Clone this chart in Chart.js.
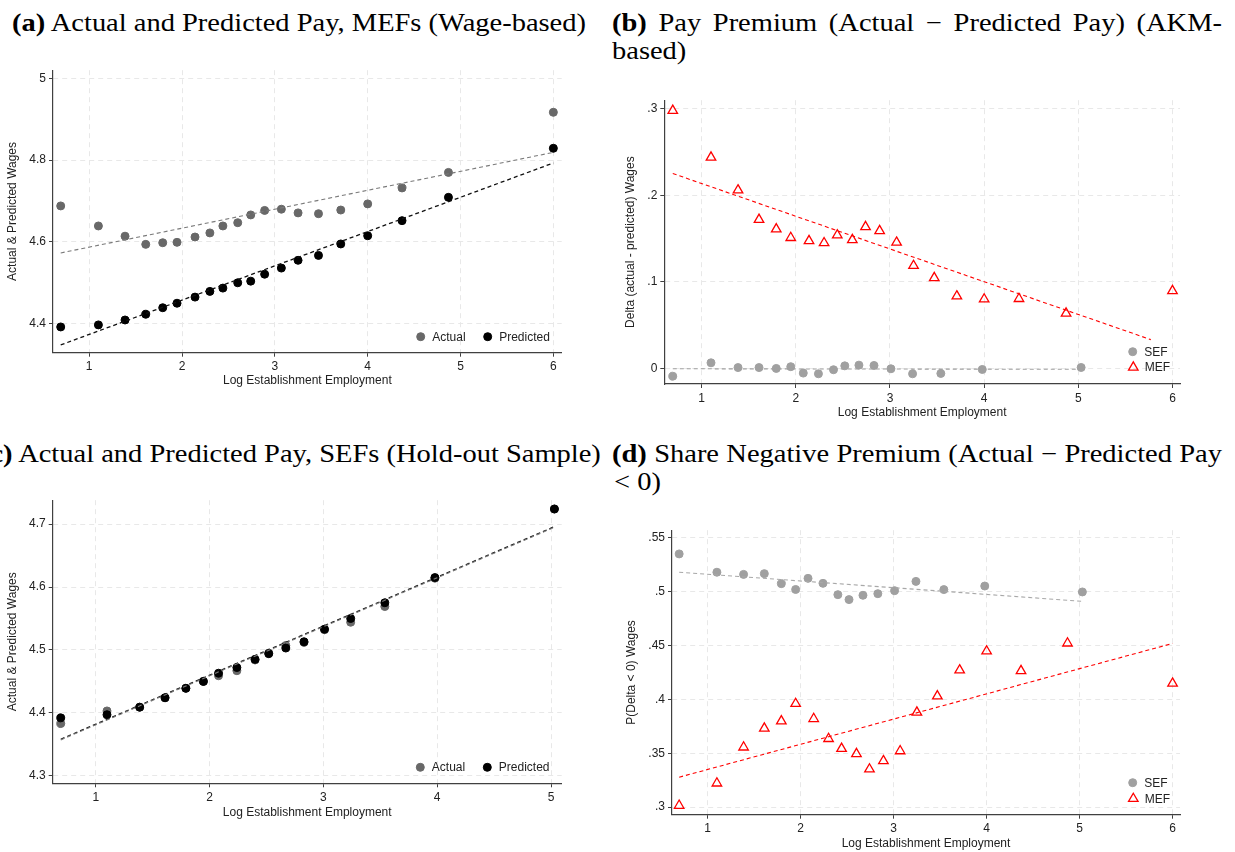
<!DOCTYPE html>
<html>
<head>
<meta charset="utf-8">
<script src="https://cdn.jsdelivr.net/npm/chart.js@4/dist/chart.umd.min.js"></script>
<style>
  body { margin: 0; background: #fff; width: 1235px; height: 852px; position: relative; overflow: hidden; }
  canvas { position: absolute; }
  .ttl { position: absolute; white-space: nowrap; font-family: 'Palatino Linotype', 'Book Antiqua', Palatino, 'Liberation Serif', serif;
         font-size: 25px; line-height: 28px; color: #000; transform-origin: 0 0; }
</style>
</head>
<body>
<span class="ttl" id="ta" style="top:9px"><b>(a)</b> Actual and Predicted Pay, MEFs (Wage-based)</span>
<span class="ttl" id="tb1" style="top:9px"><b>(b)</b> Pay Premium (Actual − Predicted Pay) (AKM-</span>
<span class="ttl" id="tb2" style="top:37px">based)</span>
<span class="ttl" id="tc" style="top:440px"><b>(c)</b> Actual and Predicted Pay, SEFs (Hold-out Sample)</span>
<span class="ttl" id="td1" style="top:440px"><b>(d)</b> Share Negative Premium (Actual − Predicted Pay</span>
<span class="ttl" id="td2" style="top:468px">&lt; 0)</span>

<canvas id="ca" width="600" height="335" style="left:0;top:60px"></canvas>
<canvas id="cb" width="625" height="335" style="left:610px;top:90px"></canvas>
<canvas id="cc" width="600" height="335" style="left:0;top:490px"></canvas>
<canvas id="cd" width="625" height="335" style="left:610px;top:520px"></canvas>

<script>
// log establishment employment bins
const xMef = [0.693, 1.099, 1.386, 1.609, 1.792, 1.946, 2.14, 2.30, 2.44, 2.60, 2.74, 2.89, 3.07, 3.25, 3.47, 3.71, 4.00, 4.37, 4.87, 6.00];
const xSef = [0.693, 1.099, 1.386, 1.609, 1.792, 1.946, 2.079, 2.24, 2.40, 2.52, 2.67, 2.83, 3.01, 3.24, 3.54, 3.98, 5.03];

// (a) MEFs, wage-based
const aActual    = [4.688, 4.639, 4.614, 4.594, 4.598, 4.599, 4.612, 4.622, 4.639, 4.647, 4.666, 4.677, 4.680, 4.671, 4.669, 4.678, 4.693, 4.732, 4.770, 4.917];
const aPredicted = [4.392, 4.397, 4.409, 4.423, 4.439, 4.450, 4.465, 4.479, 4.487, 4.500, 4.504, 4.521, 4.536, 4.555, 4.567, 4.595, 4.615, 4.652, 4.709, 4.829];
const aActualFit    = [{x: 0.693, y: 4.573}, {x: 6.00, y: 4.819}];
const aPredictedFit = [{x: 0.693, y: 4.348}, {x: 6.00, y: 4.793}];

// (b) pay premium, AKM-based
const bSef = [-0.009, 0.0065, 0.001, 0.001, 0.0, 0.002, -0.0054, -0.0062, -0.0015, 0.003, 0.0038, 0.0034, -0.0004, -0.0062, -0.0058, -0.0012, 0.0011];
const bMef = [0.298, 0.244, 0.206, 0.172, 0.161, 0.151, 0.1475, 0.145, 0.154, 0.1486, 0.1636, 0.159, 0.1456, 0.1187, 0.1046, 0.0835, 0.080, 0.0805, 0.0636, 0.0897];
const bSefFit = [{x: 0.693, y: -0.0004}, {x: 5.03, y: -0.001}];
const bMefFit = [{x: 0.693, y: 0.2253}, {x: 5.77, y: 0.0333}];

// (c) SEFs, hold-out sample
const cActual    = [4.383, 4.403, 4.409, 4.424, 4.439, 4.450, 4.459, 4.467, 4.484, 4.495, 4.507, 4.512, 4.532, 4.544, 4.569, 4.614, 4.724];
const cPredicted = [4.392, 4.397, 4.409, 4.424, 4.439, 4.450, 4.463, 4.472, 4.485, 4.494, 4.503, 4.513, 4.533, 4.550, 4.575, 4.615, 4.724];
const cActualFit    = [{x: 0.693, y: 4.357}, {x: 5.03, y: 4.695}];
const cPredictedFit = [{x: 0.693, y: 4.358}, {x: 5.03, y: 4.696}];

// (d) share with negative premium
const dSef = [0.535, 0.518, 0.516, 0.5167, 0.5074, 0.502, 0.5123, 0.5077, 0.4972, 0.4926, 0.4966, 0.4981, 0.5009, 0.5095, 0.5019, 0.5052, 0.4997];
const dMef = [0.3015, 0.3222, 0.3556, 0.3731, 0.3799, 0.396, 0.382, 0.3635, 0.3543, 0.3494, 0.3352, 0.3429, 0.3521, 0.388, 0.4031, 0.4271, 0.4447, 0.4265, 0.4521, 0.4148];
const dSefFit = [{x: 0.693, y: 0.518}, {x: 5.03, y: 0.491}];
const dMefFit = [{x: 0.693, y: 0.3278}, {x: 6.00, y: 0.4519}];

// tick values
const xTicks6 = [1, 2, 3, 4, 5, 6];
const xTicks5 = [1, 2, 3, 4, 5];
const aYTicks = [4.4, 4.6, 4.8, 5];
const bYTicks = [0, 0.1, 0.2, 0.3];
const cYTicks = [4.3, 4.4, 4.5, 4.6, 4.7];
const dYTicks = [0.3, 0.35, 0.4, 0.45, 0.5, 0.55];

const X_TITLE = 'Log Establishment Employment';
const SANS = "'Liberation Sans', Arial, Helvetica, sans-serif";
Chart.defaults.font.family = SANS;
Chart.defaults.font.size = 12;
Chart.defaults.color = '#222';

const fmt = v => String(+v.toFixed(3)).replace(/^0\./, '.').replace(/^-0\./, '-.');
const pts = (xs, ys) => xs.map((x, i) => ({x: x, y: ys[i]}));

function dots(label, data, color, order) {
  return {label, data, order, showLine: false, pointStyle: 'circle', pointRadius: 4, pointHoverRadius: 4,
          pointBackgroundColor: color, pointBorderColor: color, pointBorderWidth: 1};
}
function tris(label, data, order) {
  return {label, data, order, showLine: false, pointStyle: 'triangle', pointRadius: 5.5, pointHoverRadius: 5.5,
          pointBackgroundColor: 'rgba(0,0,0,0)', pointBorderColor: '#ff0000', pointBorderWidth: 1.3};
}
function fit(data, color, width) {
  return {label: '', data, order: 0, showLine: true, fill: false, pointRadius: 0, pointHoverRadius: 0,
          borderColor: color, borderWidth: width, borderDash: [4, 3]};
}

// legend drawn inside the plot area, offsets from its bottom-right corner
const insideLegend = {
  id: 'insideLegend',
  afterDatasetsDraw(chart, args, opts) {
    const {ctx, chartArea} = chart;
    ctx.save();
    opts.items.forEach(it => {
      const ds = chart.data.datasets[it.ds];
      const x = chartArea.right - it.dx, y = chartArea.bottom - it.dy;
      ctx.fillStyle = ds.pointBackgroundColor;
      ctx.strokeStyle = ds.pointBorderColor;
      ctx.lineWidth = ds.pointBorderWidth;
      Chart.helpers.drawPoint(ctx, {pointStyle: ds.pointStyle, radius: ds.pointRadius, borderWidth: ds.pointBorderWidth, rotation: 0}, x, y);
      ctx.fillStyle = '#222';
      ctx.font = '12px ' + SANS;
      ctx.textBaseline = 'middle';
      ctx.textAlign = 'left';
      ctx.fillText(ds.label, x + 11.5, y + 0.5);
    });
    ctx.restore();
  }
};

function axis(a, horizontal) {
  return {
    type: 'linear', min: a.min, max: a.max,
    afterBuildTicks: s => { s.ticks = a.ticks.map(v => ({value: v})); },
    afterFit: s => { if (horizontal) s.height = a.size; else s.width = a.size; },
    grid: {color: '#e8e8e8', lineWidth: 1, tickLength: 4, tickColor: '#404040', tickWidth: 1},
    border: {display: true, color: '#404040', width: 1.2, dash: [5, 4]},
    ticks: {color: '#222', padding: 3, maxRotation: 0, autoSkip: false, callback: v => fmt(v)},
    title: {display: true, text: a.title, color: '#222',
            padding: horizontal ? {top: 0, bottom: a.tp} : {top: a.tp, bottom: 0}}
  };
}

function panel(id, o) {
  return new Chart(document.getElementById(id), {
    type: 'scatter',
    data: {datasets: o.datasets},
    options: {
      responsive: false, animation: false, devicePixelRatio: 1,
      layout: {padding: o.pad},
      plugins: {legend: {display: false}, tooltip: {enabled: false}, insideLegend: {items: o.legend}},
      scales: {x: axis(o.x, true), y: axis(o.y, false)}
    },
    plugins: [insideLegend]
  });
}

panel('ca', {
  pad: {top: 7, right: 38.3, left: 0, bottom: 0},
  x: {min: 0.61, max: 6.09, ticks: xTicks6, size: 42.3, title: X_TITLE, tp: 7.1},
  y: {min: 4.329, max: 5.02, ticks: aYTicks, size: 53, title: 'Actual & Predicted Wages', tp: 5},
  datasets: [
    dots('Actual', pts(xMef, aActual), '#686868', 2),
    dots('Predicted', pts(xMef, aPredicted), '#000000', 1),
    fit(aActualFit, '#7a7a7a', 1.1),
    fit(aPredictedFit, '#111111', 1.3)
  ],
  legend: [{ds: 0, dx: 141, dy: 16}, {ds: 1, dx: 74, dy: 16}]
});

panel('cb', {
  pad: {top: 8.3, right: 55, left: 0, bottom: 0},
  x: {min: 0.603, max: 6.08, ticks: xTicks6, size: 41, title: X_TITLE, tp: 5.1},
  y: {min: -0.018, max: 0.31, ticks: bYTicks, size: 54.3, title: 'Delta (actual - predicted) Wages', tp: 13.8},
  datasets: [
    dots('SEF', pts(xSef, bSef), '#a0a0a0', 1),
    tris('MEF', pts(xMef, bMef), 1),
    fit(bSefFit, '#a0a0a0', 1.1),
    fit(bMefFit, '#ff0000', 1.1)
  ],
  legend: [{ds: 0, dx: 47.3, dy: 32.3}, {ds: 1, dx: 46.7, dy: 16.7}]
});

panel('cc', {
  pad: {top: 7.3, right: 38.3, left: 0, bottom: 0},
  x: {min: 0.622, max: 5.094, ticks: xTicks5, size: 41.7, title: X_TITLE, tp: 5.1},
  y: {min: 4.288, max: 4.738, ticks: cYTicks, size: 52.7, title: 'Actual & Predicted Wages', tp: 5.1},
  datasets: [
    dots('Actual', pts(xSef, cActual), '#686868', 2),
    dots('Predicted', pts(xSef, cPredicted), '#000000', 1),
    fit(cActualFit, '#7a7a7a', 1.1),
    fit(cPredictedFit, '#111111', 1.3)
  ],
  legend: [{ds: 0, dx: 141.4, dy: 16}, {ds: 1, dx: 74.4, dy: 16}]
});

panel('cd', {
  pad: {top: 9.3, right: 55, left: 0, bottom: 0},
  x: {min: 0.616, max: 6.08, ticks: xTicks6, size: 40.3, title: X_TITLE, tp: 4.5},
  y: {min: 0.293, max: 0.557, ticks: dYTicks, size: 62, title: 'P(Delta < 0) Wages', tp: 14.8},
  datasets: [
    dots('SEF', pts(xSef, dSef), '#a0a0a0', 1),
    tris('MEF', pts(xMef, dMef), 1),
    fit(dSefFit, '#a8a8a8', 1.1),
    fit(dMefFit, '#ff0000', 1.1)
  ],
  legend: [{ds: 0, dx: 47.3, dy: 32}, {ds: 1, dx: 46.7, dy: 16}]
});

// panel headings: one glyph scale for all, first lines of (b) and (d) justified
function placeTitles() {
  const el = id => document.getElementById(id);
  const w = id => el(id).getBoundingClientRect().width;
  const s = 574 / w('ta');
  const set = (id, left) => { el(id).style.left = left + 'px'; el(id).style.transform = 'scaleX(' + s + ')'; };
  const justify = (id, target) => {
    const spaces = (el(id).textContent.match(/ /g) || []).length;
    el(id).style.wordSpacing = ((target / s - w(id)) / spaces) + 'px';
  };
  justify('tb1', 610);
  justify('td1', 610);
  set('ta', 11.7);
  set('tb1', 612);
  set('tb2', 612);
  set('tc', 601 - w('tc') * s);
  set('td1', 612);
  set('td2', 614);
}
if (document.fonts && document.fonts.ready) document.fonts.ready.then(placeTitles); else placeTitles();
</script>
</body>
</html>
